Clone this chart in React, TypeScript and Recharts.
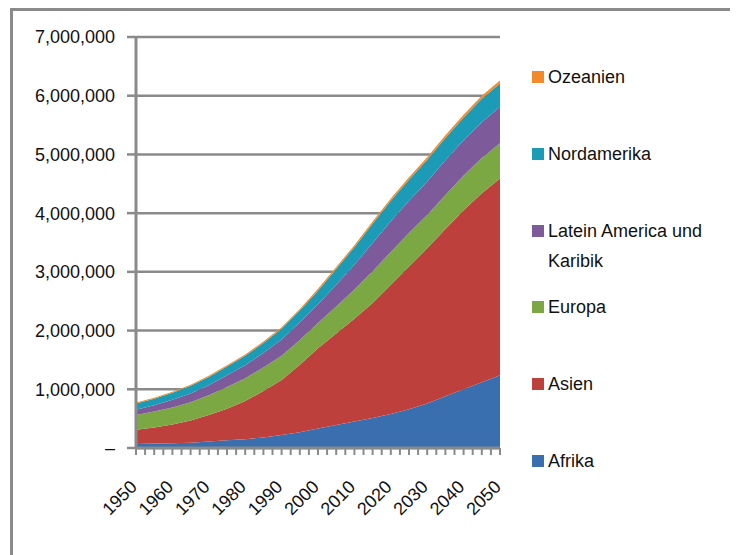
import React from "react";
import { AreaChart, Area, XAxis, YAxis, CartesianGrid } from "recharts";

const years = [1950, 1955, 1960, 1965, 1970, 1975, 1980, 1985, 1990, 1995, 2000, 2005, 2010, 2015, 2020, 2025, 2030, 2035, 2040, 2045, 2050];
const afrika = [70000, 75000, 80000, 90000, 110000, 130000, 150000, 180000, 220000, 270000, 330000, 390000, 450000, 510000, 580000, 660000, 760000, 880000, 1000000, 1120000, 1240000];
const asien = [240000, 275000, 320000, 380000, 450000, 540000, 650000, 790000, 940000, 1150000, 1370000, 1560000, 1750000, 1960000, 2200000, 2430000, 2640000, 2850000, 3050000, 3220000, 3350000];
const europa = [250000, 270000, 290000, 310000, 340000, 370000, 390000, 400000, 410000, 420000, 430000, 460000, 500000, 540000, 560000, 570000, 570000, 580000, 590000, 600000, 600000];
const latein = [90000, 110000, 130000, 150000, 170000, 200000, 220000, 250000, 280000, 300000, 320000, 370000, 420000, 480000, 520000, 550000, 570000, 590000, 600000, 610000, 620000];
const nordamerika = [110000, 110000, 120000, 130000, 140000, 150000, 160000, 170000, 180000, 200000, 230000, 270000, 300000, 330000, 350000, 360000, 370000, 380000, 390000, 400000, 400000];
const ozeanien = [13000, 14000, 16000, 18000, 19000, 21000, 23000, 25000, 27000, 29000, 31000, 33000, 35000, 37000, 39000, 41000, 43000, 45000, 47000, 48000, 50000];

const seriesKeys = ["afrika", "asien", "europa", "latein", "nordamerika", "ozeanien"];
const seriesNames = ["Afrika", "Asien", "Europa", "Latein America und Karibik", "Nordamerika", "Ozeanien"];
const seriesColors = ["#3A6FAF", "#BE403D", "#7CA844", "#7D5A99", "#1C9BB7", "#F38A2A"];
const seriesValues = [afrika, asien, europa, latein, nordamerika, ozeanien];

const yTicks = [0, 1000000, 2000000, 3000000, 4000000, 5000000, 6000000, 7000000];
const xLabelYears = [1950, 1960, 1970, 1980, 1990, 2000, 2010, 2020, 2030, 2040, 2050];

const data = years.map((year, i) => {
  const row: Record<string, number> = { year };
  seriesKeys.forEach((k, j) => {
    row[k] = seriesValues[j][i];
  });
  return row;
});

// minor tick positions: four subdivisions per decade
const xTicks: number[] = [];
xLabelYears.forEach((y, i) => {
  xTicks.push(y);
  if (i < xLabelYears.length - 1) {
    for (let s = 1; s < 4; s++) xTicks.push(y + s * 2.5);
  }
});

const GRAY = "#8a8a8a";
const FONT = '"Liberation Sans", Arial, sans-serif';

const XTick = (props: any) => {
  const { x, y, payload } = props;
  if (!xLabelYears.includes(payload.value)) return <g />;
  const ax = x + 2;
  const ay = y + 32;
  return (
    <text
      x={ax}
      y={ay}
      transform={`rotate(-45 ${ax} ${ay})`}
      textAnchor="end"
      fontSize={18}
      fontFamily={FONT}
      fill="#111"
    >
      {payload.value}
    </text>
  );
};

const yFormat = (v: number) => (v === 0 ? "–" : v.toLocaleString("en-US"));

const legendOrder = [5, 4, 3, 2, 1, 0];

export default function App() {
  return (
    <div style={{ position: "relative", width: 730, height: 547, fontFamily: FONT, background: "#fff" }}>
      <div style={{ position: "absolute", left: 2, top: 0, width: 728, height: 3, background: GRAY }} />
      <div style={{ position: "absolute", left: 2, top: 0, width: 3, height: 547, background: GRAY }} />
      <div style={{ position: "absolute", left: 0, top: 0 }}>
        <AreaChart
          width={730}
          height={547}
          data={data}
          margin={{ top: 29, right: 238, bottom: 7, left: 8 }}
          style={{ fontFamily: FONT }}
        >
          <CartesianGrid horizontal vertical={false} stroke={GRAY} strokeWidth={2.5} />
          <XAxis
            dataKey="year"
            type="number"
            domain={[1950, 2050]}
            ticks={xTicks}
            interval={0}
            height={100}
            tick={<XTick />}
            tickSize={7}
            tickMargin={1}
            axisLine={{ stroke: GRAY, strokeWidth: 3 }}
            tickLine={{ stroke: GRAY, strokeWidth: 2 }}
          />
          <YAxis
            type="number"
            domain={[0, 7000000]}
            ticks={yTicks}
            interval={0}
            width={120}
            tickFormatter={yFormat}
            tickSize={9}
            tickMargin={12}
            tick={{ fontSize: 18, fill: "#111", fontFamily: FONT }}
            axisLine={{ stroke: GRAY, strokeWidth: 3 }}
            tickLine={{ stroke: GRAY, strokeWidth: 2.5 }}
          />
          {seriesKeys.map((k, j) => (
            <Area
              key={k}
              type="linear"
              dataKey={k}
              name={seriesNames[j]}
              stackId="1"
              stroke="none"
              fill={seriesColors[j]}
              fillOpacity={1}
              isAnimationActive={false}
            />
          ))}
        </AreaChart>
      </div>
      {legendOrder.map((j, i) => {
        const cy = 69 + i * 76.8;
        return (
          <div key={seriesKeys[j]} style={{ position: "absolute", left: 524, top: cy - 15 }}>
            <div
              style={{
                position: "absolute",
                left: 0,
                top: 9,
                width: 12,
                height: 12,
                background: seriesColors[j],
              }}
            />
            <div
              style={{
                position: "absolute",
                left: 16,
                top: 0,
                width: 180,
                fontSize: 18,
                lineHeight: "30px",
                color: "#111",
                whiteSpace: "normal",
              }}
            >
              {seriesNames[j]}
            </div>
          </div>
        );
      })}
    </div>
  );
}
